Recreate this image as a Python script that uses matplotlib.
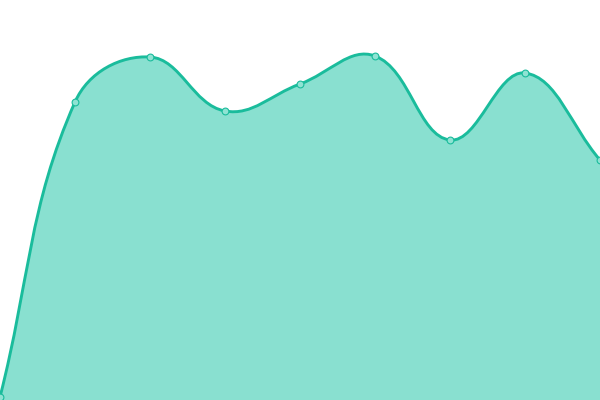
import matplotlib
matplotlib.use("Agg")
import matplotlib.pyplot as plt
from matplotlib.path import Path
from matplotlib.patches import PathPatch
import numpy as np

x_vals = [0, 75, 150, 225, 300, 375, 450, 525, 600]
y_vals = [3, 298, 343, 289, 316, 344, 260, 327, 240]

line_color = "#1abc9c"
fill_color = "#89e0d0"
point_fill = "#8fe3d3"

tension = 0.4

def control_points(xs, ys, t):
    pts = np.column_stack([xs, ys]).astype(float)
    n = len(pts)
    cps = []
    for i in range(n):
        prev = pts[i - 1] if i > 0 else pts[i]
        cur = pts[i]
        nxt = pts[i + 1] if i < n - 1 else pts[i]
        d01 = np.hypot(*(cur - prev))
        d12 = np.hypot(*(nxt - cur))
        s = d01 + d12
        fa = t * d01 / s if s else 0
        fb = t * d12 / s if s else 0
        cp_prev = cur - fa * (nxt - prev)
        cp_next = cur + fb * (nxt - prev)
        cps.append((cp_prev, cp_next))
    return pts, cps

pts, cps = control_points(x_vals, y_vals, tension)
verts = [tuple(pts[0])]
codes = [Path.MOVETO]
for i in range(len(pts) - 1):
    verts += [tuple(cps[i][1]), tuple(cps[i + 1][0]), tuple(pts[i + 1])]
    codes += [Path.CURVE4] * 3

fig = plt.figure(figsize=(6, 4), dpi=100)
ax = fig.add_axes([0, 0, 1, 1])
ax.set_xlim(0, 600)
ax.set_ylim(0, 400)
ax.axis("off")

fill_verts = verts + [(x_vals[-1], 0), (x_vals[0], 0), verts[0]]
fill_codes = codes + [Path.LINETO, Path.LINETO, Path.CLOSEPOLY]
ax.add_patch(PathPatch(Path(fill_verts, fill_codes), facecolor=fill_color, edgecolor="none"))
ax.add_patch(PathPatch(Path(verts, codes), facecolor="none", edgecolor=line_color, linewidth=2.1))
ax.scatter(x_vals, y_vals, s=24, facecolor=point_fill, edgecolor=line_color, linewidth=0.8, zorder=5)

fig.savefig("out.png", dpi=100)
